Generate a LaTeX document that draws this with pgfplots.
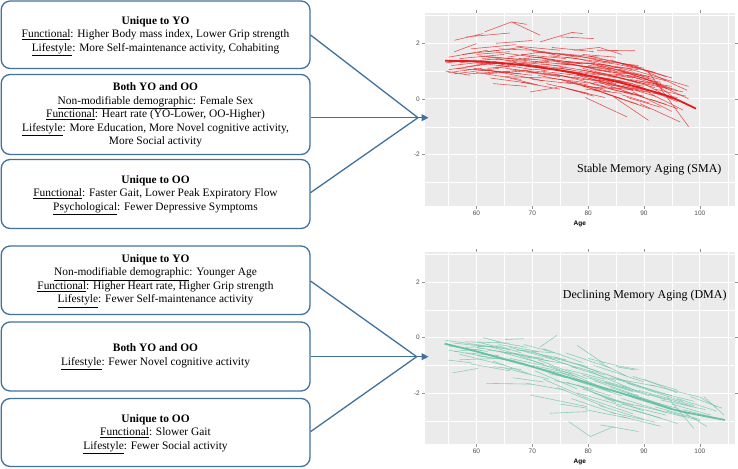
\documentclass[border=0pt]{standalone}
\usepackage{pgfplots}
\pgfplotsset{compat=1.18}
\usepackage{fontspec}
\setmainfont{Liberation Serif}
\newfontfamily\arial{Liberation Sans}
\usetikzlibrary{arrows.meta}
\definecolor{boxc}{HTML}{41719C}
\definecolor{panelbg}{HTML}{EBEBEB}
\definecolor{smared}{HTML}{E41A1C}
\definecolor{dmagreen}{HTML}{66C2A5}
\definecolor{tickgray}{HTML}{4D4D4D}
\pgfplotsset{memax/.style={
  scale only axis, width=310.5pt,
  xmin=50.7, xmax=106.3, ymin=-3.85, ymax=3.1,
  axis line style={draw=none},
  axis background/.style={fill=panelbg},
  xtick={60,70,80,90,100}, xticklabels={60,70,80,90,100},
  ytick={-2,0,2}, yticklabels={-2,0,2},
  minor xtick={55,65,75,85,95,105}, minor ytick={-3,-1,1,3},
  grid=both,
  major grid style={white, line width=0.9pt},
  minor grid style={white, line width=0.45pt},
  tick align=outside, major tick length=2.7pt, minor tick length=0pt,
  tick style={tickgray!60, line width=0.4pt},
  ticklabel style={font=\arial\fontsize{6.5}{7}\selectfont, text=tickgray, inner sep=1.8pt},
  xlabel={Age},
  xlabel style={font=\arial\bfseries\fontsize{6.5}{7}\selectfont, at={(axis description cs:0.5,0)}, anchor=center, yshift=-18pt},
  unbounded coords=jump,
  spa/.style={line width=0.6pt, opacity=0.72},
}}
\begin{document}
\begin{tikzpicture}
\useasboundingbox (0,0) rectangle (738pt,468pt);
\begin{scope}[x=1pt, y=-1pt, yshift=468pt]
\tikzset{bx/.style={draw=boxc, line width=1.3pt, rounded corners=9pt},
         tx/.style={align=center, font=\fontsize{11.4}{13.5}\selectfont}}
\draw[bx] (1.2,1) rectangle (310,68.5);
\draw[bx] (1.2,74.5) rectangle (310,154.5);
\draw[bx] (1.2,159.5) rectangle (310,228.5);
\draw[bx] (1.2,246) rectangle (310,314.5);
\draw[bx] (1.2,322) rectangle (310,391);
\draw[bx] (1.2,398.5) rectangle (310,466.5);
\node[tx] at (155.5,36) {\textbf{Unique to YO}\\ \underline{Functional}: Higher Body mass index, Lower Grip strength\\ \underline{Lifestyle}: More Self-maintenance activity, Cohabiting};
\node[tx] at (155.5,115) {\textbf{Both YO and OO}\\ \underline{Non-modifiable demographic}: Female Sex\\ \underline{Functional}: Heart rate (YO-Lower, OO-Higher)\\ \underline{Lifestyle}: More Education, More Novel cognitive activity,\\ More Social activity};
\node[tx] at (155.5,195) {\textbf{Unique to OO}\\ \underline{Functional}: Faster Gait, Lower Peak Expiratory Flow\\ \underline{Psychological}: Fewer Depressive Symptoms};
\node[tx] at (155.5,281) {\textbf{Unique to YO}\\ \underline{Non-modifiable demographic}: Younger Age\\ \underline{Functional}: Higher Heart rate, Higher Grip strength\\ \underline{Lifestyle}: Fewer Self-maintenance activity};
\node[tx] at (155.5,357) {\textbf{Both YO and OO}\\ \underline{Lifestyle}: Fewer Novel cognitive activity};
\node[tx] at (155.5,434) {\textbf{Unique to OO}\\ \underline{Functional}: Slower Gait\\ \underline{Lifestyle}: Fewer Social activity};
\end{scope}

% ---------- SMA ----------
\begin{axis}[memax, at={(424.5pt,455.3pt)}, anchor=north west, height=193.3pt]
\addplot[smared, spa] coordinates {(55,1.05)(62,1.25) (nan,nan) (55.5,1.20)(60,1.30)(66,1.15) (nan,nan) (56,1.69)(60,1.99) (nan,nan) (56.1,2.11)(61.2,2.35) (nan,nan) (58.2,2.23)(66,2.37) (nan,nan) (61.5,2.41)(66.3,2.77)(69,2.68) (nan,nan) (66.3,2.77)(71.4,2.29) (nan,nan) (54.5,1.0)(58.8,0.85) (nan,nan) (56,0.9)(64,1.1) (nan,nan) (57,1.45)(65,1.6)};
\addplot[smared, spa] coordinates {(58,1.15)(63,1.3)(70,1.05) (nan,nan) (59,1.8)(67,1.95) (nan,nan) (60,0.95)(68,0.7) (nan,nan) (60.5,1.55)(66,1.45)(72,1.3) (nan,nan) (61,1.05)(70,0.85) (nan,nan) (62,1.7)(68,1.85)(74,1.6) (nan,nan) (62.5,0.75)(70,0.55) (nan,nan) (63,1.35)(72,1.1) (nan,nan) (63.5,2.0)(70,2.1) (nan,nan) (64,1.2)(73,1.35)};
\addplot[smared, spa] coordinates {(64.5,0.95)(72,0.65) (nan,nan) (65,1.65)(74,1.4) (nan,nan) (65.5,1.5)(72,1.7)(78,1.5) (nan,nan) (66,1.05)(75,0.8) (nan,nan) (67,1.9)(75,1.75) (nan,nan) (67,1.25)(76,1.0) (nan,nan) (68,0.6)(75,0.35) (nan,nan) (68.5,1.45)(77,1.3) (nan,nan) (69,1.0)(78,0.75) (nan,nan) (69.6,0.25)(74.4,0.41)};
\addplot[smared, spa] coordinates {(70,1.7)(78,1.55)(84,1.3) (nan,nan) (70.5,1.2)(79,0.9) (nan,nan) (71,0.85)(80,0.5) (nan,nan) (71.4,2.05)(77.1,2.39)(79,2.35) (nan,nan) (72,1.45)(81,1.1) (nan,nan) (72.5,0.55)(80,0.2) (nan,nan) (73,1.1)(82,0.85) (nan,nan) (73.5,1.85)(81,1.7) (nan,nan) (74,0.9)(83,0.45) (nan,nan) (74.5,1.3)(84,1.05)};
\addplot[smared, spa] coordinates {(75,2.23)(81,2.17) (nan,nan) (75,0.7)(82,0.3) (nan,nan) (75.5,1.6)(83,1.4)(88,1.2) (nan,nan) (76,1.0)(85,0.55) (nan,nan) (76.5,0.35)(83,0.05) (nan,nan) (77,1.25)(86,0.9) (nan,nan) (77.5,1.75)(82,1.85)(86,1.6) (nan,nan) (78,0.85)(87,0.4) (nan,nan) (78,1.45)(88,1.0) (nan,nan) (78.5,0.5)(86,0.0)};
\addplot[smared, spa] coordinates {(79,1.1)(89,0.6) (nan,nan) (79.5,0.05)(87,-0.65) (nan,nan) (80,1.55)(90,1.1) (nan,nan) (80,0.75)(88,0.3) (nan,nan) (80.5,1.3)(91,0.75) (nan,nan) (81,0.35)(89,-0.2) (nan,nan) (81.6,1.75)(88.4,1.73) (nan,nan) (82,0.95)(92,0.4) (nan,nan) (82,0.6)(90,0.05) (nan,nan) (82.5,1.2)(93,0.55)};
\addplot[smared, spa] coordinates {(83,0.2)(91,-0.35) (nan,nan) (83.5,0.85)(90,0.55)(95,0.0) (nan,nan) (84,1.4)(94,0.8) (nan,nan) (84.6,0.07)(90.8,-0.77) (nan,nan) (85,0.65)(93,0.2) (nan,nan) (85.5,1.05)(96,0.3) (nan,nan) (86,0.3)(94,-0.2) (nan,nan) (87,0.85)(95,0.35) (nan,nan) (88.1,1.21)(97.7,0.31) (nan,nan) (88.5,0.5)(96,-0.1)};
\addplot[smared, spa] coordinates {(89.3,-0.17)(96.5,-0.83) (nan,nan) (90,0.75)(98,0.0) (nan,nan) (90.8,0.97)(98,-1.0) (nan,nan) (91,0.2)(97,-0.4) (nan,nan) (92,0.55)(95,0.1) (nan,nan) (57,1.3)(64,1.45)(69,1.2) (nan,nan) (59.5,1.1)(65,0.95) (nan,nan) (61,1.45)(69,1.35) (nan,nan) (66,0.75)(71,0.5) (nan,nan) (70,0.95)(76,1.15)};
\addplot[smared, spa] coordinates {(73,1.55)(78,1.45) (nan,nan) (77,0.6)(84,0.25) (nan,nan) (67.5,1.45)(72,1.5) (nan,nan) (55,1.5)(62,1.75) (nan,nan) (62,1.1)(67,1.2) (nan,nan) (74,1.2)(80,1.3)(85,1.0) (nan,nan) (86,1.25)(92,0.95) (nan,nan) (81,1.05)(87,0.9) (nan,nan) (79,1.6)(85,1.5) (nan,nan) (63,0.55)(69,0.45)};
\addplot[smared, spa] coordinates {(54.5,1.3)(60,1.4) (nan,nan) (55,0.95)(61,1.1) (nan,nan) (56.5,1.1)(63,1.0)(68,0.9) (nan,nan) (57.5,1.6)(64,1.75) (nan,nan) (58.5,0.9)(66,1.0) (nan,nan) (60,1.25)(67,1.3)(72,1.15) (nan,nan) (61.5,0.9)(68,1.0) (nan,nan) (62,1.5)(70,1.4) (nan,nan) (63.5,1.15)(71,0.95) (nan,nan) (64,1.8)(70,1.75)(75,1.55)};
\addplot[smared, spa] coordinates {(65,0.8)(73,0.75) (nan,nan) (66.5,1.35)(74,1.2) (nan,nan) (67.5,1.0)(73,1.1)(79,0.85) (nan,nan) (68,1.6)(76,1.45) (nan,nan) (69,1.25)(77,1.05) (nan,nan) (70,0.7)(77,0.55) (nan,nan) (71,1.5)(79,1.25) (nan,nan) (71.5,1.0)(80,0.8) (nan,nan) (72.5,1.25)(80,1.0)(85,0.75) (nan,nan) (73,0.75)(81,0.55)};
\addplot[smared, spa] coordinates {(74,1.65)(82,1.5) (nan,nan) (75,1.1)(83,0.85) (nan,nan) (76,1.35)(84,1.2) (nan,nan) (76,0.6)(83,0.35) (nan,nan) (77,0.95)(86,0.65) (nan,nan) (78,1.2)(86,1.05)(90,0.8) (nan,nan) (79,0.7)(87,0.6) (nan,nan) (79.5,0.35)(86,0.2) (nan,nan) (80,1.0)(88,0.75) (nan,nan) (80.5,0.55)(88,0.15)};
\addplot[smared, spa] coordinates {(81,1.4)(89,1.2) (nan,nan) (81.5,0.8)(90,0.45) (nan,nan) (82.5,0.45)(89,0.3) (nan,nan) (83,1.05)(91,0.8) (nan,nan) (83.5,0.6)(92,0.1) (nan,nan) (84,0.35)(90,0.1) (nan,nan) (84.5,0.9)(93,0.6) (nan,nan) (85,1.25)(91,1.0)(95,0.75) (nan,nan) (86,0.5)(94,0.15) (nan,nan) (87,0.05)(93,-0.3)};
\addplot[smared, spa] coordinates {(87.5,0.7)(95,0.45) (nan,nan) (88,0.95)(94,0.65) (nan,nan) (89,0.3)(96,0.05) (nan,nan) (90,0.55)(97,0.25) (nan,nan) (91,0.0)(96,-0.35) (nan,nan) (92,0.35)(97.5,0.1) (nan,nan) (93,0.75)(98,0.45) (nan,nan) (70.5,1.35)(78,1.2)(84,0.95) (nan,nan) (72,0.95)(79,0.7) (nan,nan) (73.5,1.4)(81,1.25)};
\addplot[smared, spa] coordinates {(75,0.45)(81,0.1) (nan,nan) (76,1.5)(85,1.25) (nan,nan) (77.5,0.8)(84,0.55) (nan,nan) (78.5,1.05)(85,0.8)(90,0.55) (nan,nan) (79,0.45)(86,0.35) (nan,nan) (80,1.2)(87,1.1) (nan,nan) (81,0.6)(89,0.35) (nan,nan) (82,1.25)(89,1.05) (nan,nan) (83,0.75)(88,0.55) (nan,nan) (84,0.5)(91,0.25)};
\addplot[smared, spa] coordinates {(85,0.9)(92,0.7) (nan,nan) (86,0.15)(91,-0.15) (nan,nan) (87,1.1)(93,0.75) (nan,nan) (88,0.25)(95,-0.45) (nan,nan) (89,0.65)(94,0.4) (nan,nan) (60,1.6)(66,1.7) (nan,nan) (58,1.35)(65,1.25)};
\addplot[smared, line width=1.8pt, smooth] coordinates {(54.4,1.37)(60,1.35)(65,1.28)(70,1.17)(75,1.02)(80,0.84)(85,0.62)(90,0.36)(95,0.05)(99.3,-0.35)};
\node[font=\fontsize{12}{14}\selectfont] at (axis cs:90.95,-2.53) {Stable Memory Aging (SMA)};
\end{axis}

% ---------- DMA ----------
\begin{axis}[memax, at={(424.5pt,216.3pt)}, anchor=north west, height=192.6pt]
\addplot[dmagreen, spa] coordinates {(54.5,-0.1)(60,-0.25)(65,-0.4) (nan,nan) (54.9,-0.81)(59.1,-0.91) (nan,nan) (55.8,-1.27)(60.3,-1.11) (nan,nan) (55,-0.45)(62,-0.7) (nan,nan) (56,-0.2)(63,-0.35) (nan,nan) (57,-0.6)(65,-1.0) (nan,nan) (58,-0.35)(64,-0.3)(68,-0.55) (nan,nan) (59,-0.95)(66,-1.2) (nan,nan) (60,-0.15)(66,-0.45) (nan,nan) (61.2,0.0)(64.2,-0.16)};
\addplot[dmagreen, spa] coordinates {(61,-0.55)(68,-0.9) (nan,nan) (61.8,-1.65)(70.2,-1.68) (nan,nan) (62,-0.3)(70,-0.75) (nan,nan) (63,-0.85)(70,-1.35) (nan,nan) (63.5,-0.15)(69,-0.35) (nan,nan) (64,-0.5)(72,-0.95) (nan,nan) (65.1,-0.07)(68.4,-0.04) (nan,nan) (65,-1.1)(73,-1.5) (nan,nan) (66,-0.35)(74,-0.8) (nan,nan) (66.5,-1.45)(72,-1.6)};
\addplot[dmagreen, spa] coordinates {(67,-0.6)(75,-1.2) (nan,nan) (68,-0.9)(76,-1.45) (nan,nan) (68.5,-0.25)(75,-0.6) (nan,nan) (69.6,-2.07)(79.8,-2.49) (nan,nan) (70,-0.5)(78,-1.1) (nan,nan) (70.5,-1.2)(78,-1.85) (nan,nan) (71.4,-0.34)(74.4,0.08) (nan,nan) (71,-0.8)(80,-1.5) (nan,nan) (72,-1.5)(80,-2.2) (nan,nan) (72,-0.4)(79,-0.9)};
\addplot[dmagreen, spa] coordinates {(73.2,-2.73)(79.8,-2.67) (nan,nan) (73,-1.0)(82,-1.75) (nan,nan) (74,-0.7)(82,-1.25) (nan,nan) (74.5,-1.8)(83,-2.5) (nan,nan) (75,-1.25)(84,-1.95) (nan,nan) (76.5,-3.03)(80.4,-3.57)(84.6,-3.21) (nan,nan) (76,-0.55)(84,-1.1) (nan,nan) (77,-2.2)(85,-2.75) (nan,nan) (77,-1.5)(86,-2.1) (nan,nan) (78,-0.28)(82.8,-0.93)};
\addplot[dmagreen, spa] coordinates {(78,-0.95)(87,-1.6) (nan,nan) (79,-1.85)(88,-2.45) (nan,nan) (79.5,-2.6)(87,-2.9) (nan,nan) (80,-1.2)(89,-1.95) (nan,nan) (80,-0.75)(86,-1.05)(89,-1.15) (nan,nan) (81,-2.0)(90,-2.65) (nan,nan) (81,-1.55)(89,-2.1) (nan,nan) (82.2,-3.15)(89,-3.39) (nan,nan) (82,-2.45)(90,-2.95) (nan,nan) (83,-1.3)(92,-1.95)};
\addplot[dmagreen, spa] coordinates {(84,-1.8)(93,-2.4) (nan,nan) (84,-2.7)(92,-3.05) (nan,nan) (85,-1.05)(88.4,-1.17) (nan,nan) (85,-1.5)(95,-2.1) (nan,nan) (86,-2.2)(94,-2.7) (nan,nan) (87,-1.65)(97,-2.3) (nan,nan) (88,-2.6)(96,-3.1) (nan,nan) (89,-1.9)(99,-2.45) (nan,nan) (90,-2.3)(98,-2.75) (nan,nan) (91,-1.7)(100,-2.15)(103,-2.5)};
\addplot[dmagreen, spa] coordinates {(92,-2.5)(100,-2.95) (nan,nan) (94.1,-2.13)(98.9,-3.27) (nan,nan) (95.9,-2.55)(101.3,-3.21) (nan,nan) (98.3,-2.13)(104,-2.55) (nan,nan) (100.7,-2.13)(104.3,-2.79) (nan,nan) (86,-2.85)(93,-3.2) (nan,nan) (78,-1.7)(85,-2.35) (nan,nan) (75,-2.4)(80,-2.55) (nan,nan) (69,-1.65)(76,-1.9) (nan,nan) (63,-1.05)(68,-1.15)};
\addplot[dmagreen, spa] coordinates {(56,-0.5)(61,-0.4) (nan,nan) (90,-1.5)(96,-2.0) (nan,nan) (82,-0.9)(87,-1.4) (nan,nan) (95,-2.4)(102,-2.8) (nan,nan) (55,-0.3)(62,-0.5) (nan,nan) (57,-0.8)(64,-0.75) (nan,nan) (58,-0.15)(66,-0.2) (nan,nan) (60,-0.65)(67,-0.85) (nan,nan) (62,-0.45)(68,-0.6)(73,-0.85) (nan,nan) (64,-0.25)(71,-0.5)};
\addplot[dmagreen, spa] coordinates {(66,-0.75)(73,-1.05) (nan,nan) (67,-0.45)(74,-0.55) (nan,nan) (69,-0.7)(76,-0.95) (nan,nan) (70,-1.0)(77,-1.3) (nan,nan) (72,-0.65)(80,-1.05) (nan,nan) (73,-1.3)(80,-1.6) (nan,nan) (75,-0.9)(83,-1.35) (nan,nan) (76,-1.6)(84,-2.1) (nan,nan) (77,-1.05)(85,-1.55) (nan,nan) (79,-1.35)(87,-1.8)};
\addplot[dmagreen, spa] coordinates {(80,-2.2)(88,-2.75) (nan,nan) (81,-1.0)(90,-1.6) (nan,nan) (82,-1.75)(90,-2.3) (nan,nan) (83,-2.2)(91,-2.55) (nan,nan) (84,-1.45)(92,-1.75) (nan,nan) (85,-2.45)(93,-2.9) (nan,nan) (86,-1.75)(94,-2.25) (nan,nan) (87,-2.0)(95,-2.55) (nan,nan) (88,-1.4)(96,-1.9) (nan,nan) (89,-2.45)(97,-2.85)};
\addplot[dmagreen, spa] coordinates {(91,-2.05)(99,-2.5) (nan,nan) (93,-2.25)(101,-2.6) (nan,nan) (96,-2.2)(103,-2.65) (nan,nan) (97,-2.6)(104,-2.95) (nan,nan) (58,-0.55)(64,-0.65) (nan,nan) (60,-0.35)(67,-0.6) (nan,nan) (65,-0.55)(72,-0.75) (nan,nan) (68,-0.45)(76,-0.8) (nan,nan) (71,-1.1)(78,-1.4) (nan,nan) (74,-1.55)(81,-1.85)};
\addplot[dmagreen, spa] coordinates {(76,-1.15)(83,-1.5) (nan,nan) (78,-2.0)(86,-2.45) (nan,nan) (80,-1.45)(88,-1.95) (nan,nan) (83,-1.6)(91,-2.1) (nan,nan) (86,-2.4)(94,-2.8) (nan,nan) (88,-2.15)(96,-2.55) (nan,nan) (92,-1.95)(99,-2.3) (nan,nan) (94,-2.65)(100,-3.0)};
\addplot[dmagreen, line width=1.8pt, smooth] coordinates {(54.3,-0.22)(60,-0.5)(65,-0.78)(70,-1.05)(75,-1.35)(80,-1.65)(85,-1.95)(90,-2.25)(95,-2.58)(100,-2.8)(104.5,-2.97)};
\node[font=\fontsize{12}{14}\selectfont] at (axis cs:90.14,1.52) {Declining Memory Aging (DMA)};
\end{axis}

\begin{scope}[x=1pt, y=-1pt, yshift=468pt]
\tikzset{ar/.style={draw=boxc, line width=1.3pt}}
\draw[ar] (310.5,35) -- (418,117.7) -- (310.5,192.7);
\draw[ar] (310.5,117.7) -- (418,117.7);
\draw[ar, -{Triangle[length=7pt,width=7pt]}] (417,117.7) -- (428.5,117.7);
\draw[ar] (310.5,281) -- (416.7,356.7) -- (310.5,431.7);
\draw[ar] (310.5,356.7) -- (416.7,356.7);
\draw[ar, -{Triangle[length=7pt,width=7pt]}] (415.7,356.7) -- (428.5,356.7);
\end{scope}
\end{tikzpicture}
\end{document}
